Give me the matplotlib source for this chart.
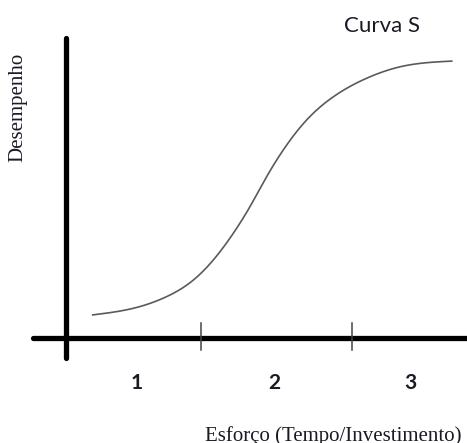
import numpy as np
import matplotlib
matplotlib.use("Agg")
import matplotlib.pyplot as plt

# --- data ---
effort = [0.267, 0.673, 1.007, 1.273, 1.473, 1.673, 1.84, 2.007, 2.173,
          2.407, 2.673, 3.007, 3.34, 3.857]
performance = [0.077, 0.099, 0.138, 0.193, 0.260, 0.349, 0.438, 0.538,
               0.627, 0.727, 0.804, 0.866, 0.904, 0.923]
phase_labels = ["1", "2", "3"]
phase_centers = [0.71, 2.08, 3.44]
phase_bounds = [1.35, 2.86]
title = "Curva S"
xlabel = "Esforço (Tempo/Investimento)"
ylabel = "Desempenho"


def natural_spline(x, y, num=400):
    """Natural cubic spline through the read points (for a smooth stroke)."""
    x = np.asarray(x, float)
    y = np.asarray(y, float)
    n = len(x)
    h = np.diff(x)
    A = np.zeros((n, n))
    b = np.zeros(n)
    A[0, 0] = A[-1, -1] = 1.0
    for i in range(1, n - 1):
        A[i, i - 1] = h[i - 1]
        A[i, i] = 2 * (h[i - 1] + h[i])
        A[i, i + 1] = h[i]
        b[i] = 6 * ((y[i + 1] - y[i]) / h[i] - (y[i] - y[i - 1]) / h[i - 1])
    M = np.linalg.solve(A, b)
    xs = np.linspace(x[0], x[-1], num)
    idx = np.clip(np.searchsorted(x, xs) - 1, 0, n - 2)
    x0, x1 = x[idx], x[idx + 1]
    hi = h[idx]
    ys = (M[idx] * (x1 - xs) ** 3 / (6 * hi)
          + M[idx + 1] * (xs - x0) ** 3 / (6 * hi)
          + (y[idx] / hi - M[idx] * hi / 6) * (x1 - xs)
          + (y[idx + 1] / hi - M[idx + 1] * hi / 6) * (xs - x0))
    return xs, ys


fig = plt.figure(figsize=(4.67, 4.43), dpi=100)
ax = fig.add_axes([0, 0, 1, 1])
ax.set_xlim(-0.66, 4.01)
ax.set_ylim(-0.35, 1.1267)
ax.axis("off")

# axes lines
ax.plot([0, 0], [-0.067, 1.0], color="black", lw=3.8, solid_capstyle="round")
ax.plot([-0.33, 4.2], [0, 0], color="black", lw=3.8, solid_capstyle="round")
for b in phase_bounds:
    ax.plot([b, b], [-0.04, 0.05], color="#444444", lw=1.1)

# curve
sx, sy = natural_spline(effort, performance)
ax.plot(sx, sy, color="#5a5a5a", lw=1.2)

# phase labels
for c, lab in zip(phase_centers, phase_labels):
    ax.text(c, -0.15, lab, ha="center", va="center", fontsize=15,
            fontweight="bold", family="Lato", color="#1a1a24")

ax.text(3.16, 1.04, title, ha="center", va="center", fontsize=16,
        family="Lato", color="#1a1a24")
ax.text(-0.48, 0.77, ylabel, ha="center", va="center", rotation=90,
        fontsize=15, family="Liberation Serif", color="#1a1a24")
ax.text(1.39, -0.343, xlabel, ha="left", va="baseline", fontsize=15,
        family="Liberation Serif", color="#1a1a24")

fig.savefig("out.png", dpi=100)
